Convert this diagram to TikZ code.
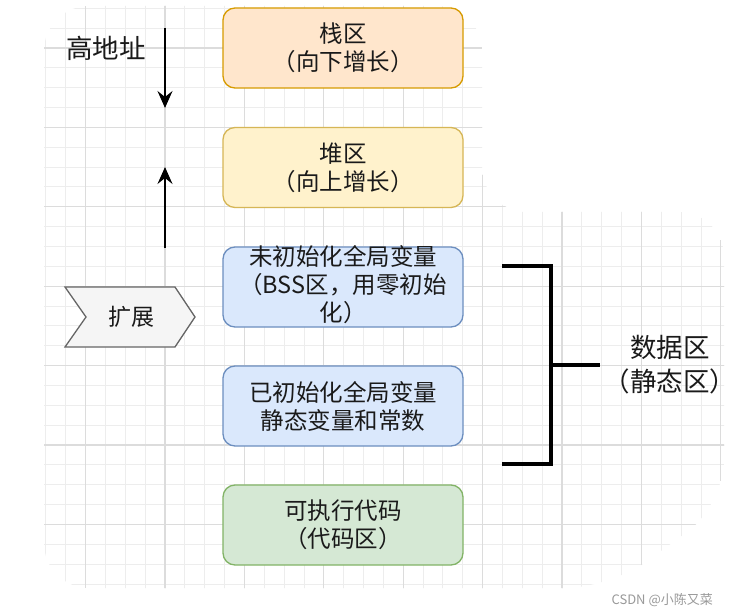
\documentclass[tikz,border=0pt]{standalone}
\usepackage{fontspec}
\setmainfont{Noto Sans CJK SC}
\usetikzlibrary{arrows.meta}
\definecolor{gridminor}{HTML}{EDEDED}
\definecolor{gridmajor}{HTML}{DCDCDC}
\definecolor{orfill}{HTML}{FFE6CC}\definecolor{ordraw}{HTML}{D79B00}
\definecolor{yefill}{HTML}{FFF2CC}\definecolor{yedraw}{HTML}{D6B656}
\definecolor{blfill}{HTML}{DAE8FC}\definecolor{bldraw}{HTML}{6C8EBF}
\definecolor{grfill}{HTML}{D5E8D4}\definecolor{grdraw}{HTML}{82B366}
\definecolor{gyfill}{HTML}{F5F5F5}\definecolor{gydraw}{HTML}{666666}
\definecolor{txt}{HTML}{1A1A1A}
\tikzset{
  membox/.style={draw, line width=1.3pt, rounded corners=12pt, minimum width=240pt, minimum height=80pt,
    align=center, text=txt, font=\fontsize{23.5}{28}\selectfont, inner sep=0pt},
  bigtxt/.style={text=txt, font=\fontsize{26.5}{34}\selectfont, align=center, inner sep=0pt},
  arr/.style={line width=1.6pt, -{Stealth[length=17pt,width=15pt,inset=6pt]}},
  brk/.style={line width=3.5pt},
}
\begin{document}
\begin{tikzpicture}[x=1pt,y=-1pt]
\useasboundingbox (0,0) rectangle (743,612);
\fill[white] (0,0) rectangle (743,612);
% grid background
\begin{scope}
\clip[rounded corners=45pt] (44,6) -- (482,6) -- (482,212) -- (724,212) -- (724,505) -- (610,588) -- (44,588) -- cycle;
\foreach \k in {-6,...,28} \draw[gridminor, line width=0.9pt] ({165+\k*19.85},0) -- ({165+\k*19.85},612);
\foreach \k in {-2,...,28} \draw[gridminor, line width=0.9pt] (0,{48+\k*19.85}) -- (743,{48+\k*19.85});
\foreach \m in {-1,...,7} \draw[gridmajor, line width=1.1pt] ({165+\m*79.4},0) -- ({165+\m*79.4},612);
\foreach \m in {0,...,7} \draw[gridmajor, line width=1.1pt] (0,{48+\m*79.4}) -- (743,{48+\m*79.4});
\end{scope}
% boxes
\node[membox, fill=orfill, draw=ordraw] (stack) at (343,48) {栈区\\（向下增长）};
\node[membox, fill=yefill, draw=yedraw] (heap) at (343,167.5) {堆区\\（向上增长）};
\node[membox, fill=blfill, draw=bldraw] (bss) at (343,287) {};
\node[text=txt, font=\fontsize{23.5}{28}\selectfont, align=center, inner sep=0pt] (bsstxt) at (343,285) {未初始化全局变量\\（BSS区，用零初始\\化）};
\node[membox, fill=blfill, draw=bldraw] (data) at (343,406) {已初始化全局变量\\静态变量和常数};
\node[membox, fill=grfill, draw=grdraw] (code) at (343,525) {可执行代码\\（代码区）};
% left labels and arrows
\node[bigtxt] (high) at (106,48) {高地址};
\coordinate (d1) at (165,28);
\coordinate (d2) at (165,108);
\coordinate (u1) at (165,248);
\coordinate (u2) at (165,167);
\draw[arr] (d1) -- (d2);
\draw[arr] (u1) -- (u2);
% expand step shape
\draw[fill=gyfill, draw=gydraw, line width=1.3pt] (65,287) -- (175,287) -- (195,317) -- (175,347) -- (65,347) -- (86,317) -- cycle;
\node[text=txt, font=\fontsize{23}{28}\selectfont, inner sep=0pt] (expand) at (131,317) {扩展};
% bracket
\coordinate (b1) at (502,266);
\coordinate (b2) at (551,266);
\coordinate (b3) at (551,464);
\coordinate (b4) at (502,464);
\coordinate (bm) at (551,365);
\coordinate (bt) at (600,365);
\draw[brk] (b1) -- (b2) -- (b3) -- (b4);
\draw[brk] (bm) -- (bt);
\node[bigtxt] (datazone) at (670,365) {数据区\\（静态区）};
% watermark
\node[text=black!40, font=\fontsize{13}{15}\selectfont, inner sep=0pt, anchor=east] (wm) at (713,600) {CSDN @小陈又菜};
\end{tikzpicture}
\end{document}
